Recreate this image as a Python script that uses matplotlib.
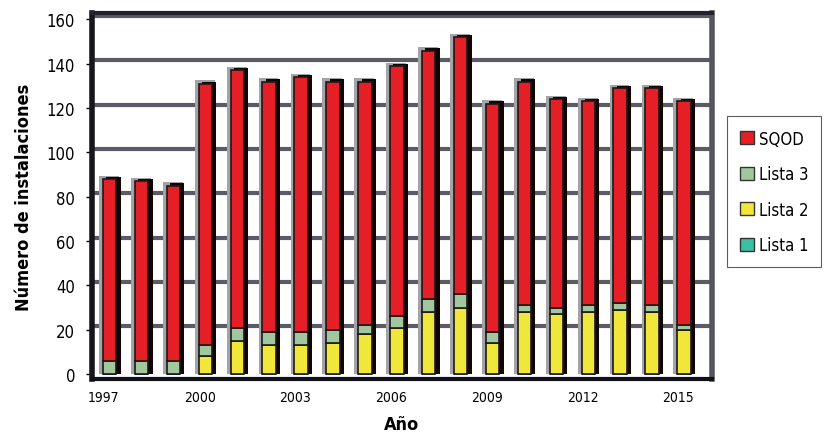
"""Instalaciones por año (barras apiladas)"""
import matplotlib
matplotlib.use('Agg')
import matplotlib.pyplot as plt
from matplotlib.patches import Patch

plt.rcParams['font.family'] = ['DejaVu Sans']
plt.rcParams['font.stretch'] = 'condensed'

YEARS = list(range(1997, 2016))
LISTA1 = [0] * 19
LISTA2 = [0, 0, 0, 8, 15, 13, 13, 14, 18, 21, 28, 30, 14, 28, 27, 28, 29, 28, 20]
LISTA3 = [6, 6, 6, 5, 6, 6, 6, 6, 4, 5, 6, 6, 5, 3, 3, 3, 3, 3, 2]
SQOD = [82, 81, 79, 118, 116, 113, 115, 112, 110, 113, 112, 116, 103, 101, 94, 92, 97, 98, 101]
XTICKS = [1997, 2000, 2003, 2006, 2009, 2012, 2015]

C_L1 = '#3cbfa2'
C_L2 = '#f0e73a'
C_L3 = '#a2c69e'
C_SQOD = '#e41f26'

fig = plt.figure(figsize=(8.27, 4.39), dpi=100)
ax = fig.add_axes([0.111, 0.134, 0.75, 0.834])

totals = [a + b + c + d for a, b, c, d in zip(LISTA1, LISTA2, LISTA3, SQOD)]
xs = [y + 0.18 for y in YEARS]

# back wall gridlines (3D offset)
for v in range(20, 161, 20):
    ax.axhline(v + 1.5, color='#5b5b65', lw=3, zorder=0)

# fake depth: gray halo + black side
ax.bar([x - 0.02 for x in xs], [t + 1.5 for t in totals], width=0.62,
       color='#a3a3a8', zorder=1)
ax.bar([x + 0.12 for x in xs], [t + 1 for t in totals], width=0.45,
       color='#120406', zorder=2)

b1 = [0] * 19
b2 = LISTA1
b3 = [a + b for a, b in zip(LISTA1, LISTA2)]
b4 = [a + b + c for a, b, c in zip(LISTA1, LISTA2, LISTA3)]
kw = dict(width=0.42, edgecolor='#1a1a1a', linewidth=1.2, zorder=3)
ax.bar(xs, LISTA1, bottom=b1, color=C_L1, **kw)
ax.bar(xs, LISTA2, bottom=b2, color=C_L2, **kw)
ax.bar(xs, LISTA3, bottom=b3, color=C_L3, **kw)
ax.bar(xs, SQOD, bottom=b4, color=C_SQOD, **kw)

ax.set_xlim(1996.62, 2016.06)
ax.set_ylim(-2.3, 162.9)
ax.set_yticks(range(0, 161, 20))
ax.set_xticks(XTICKS)
ax.tick_params(axis='y', labelsize=12, length=4, width=1, pad=8)
ax.tick_params(axis='x', labelsize=10, length=0, pad=8)

ax.spines['left'].set_linewidth(4)
ax.spines['left'].set_color('#16161e')
ax.spines['top'].set_linewidth(3)
ax.spines['top'].set_color('#22222c')
ax.spines['bottom'].set_linewidth(3)
ax.spines['bottom'].set_color('#101018')
ax.spines['right'].set_linewidth(4)
ax.spines['right'].set_color('#55555f')

ax.set_ylabel('Número de instalaciones', fontsize=13, fontweight='bold', labelpad=10)
ax.set_xlabel('Año', fontsize=13, fontweight='bold', labelpad=8)

handles = [Patch(facecolor=C_SQOD, edgecolor='#333333', label='SQOD'),
           Patch(facecolor=C_L3, edgecolor='#333333', label='Lista 3'),
           Patch(facecolor=C_L2, edgecolor='#333333', label='Lista 2'),
           Patch(facecolor=C_L1, edgecolor='#333333', label='Lista 1')]
leg = fig.legend(handles=handles, loc='upper left', bbox_to_anchor=(0.879, 0.733),
                 fontsize=12, frameon=True, fancybox=False, edgecolor='#333333',
                 handlelength=0.8, handleheight=0.8, handletextpad=0.3,
                 labelspacing=1.05, borderpad=0.8, borderaxespad=0)
leg.get_frame().set_linewidth(0.8)

fig.savefig('out.png', dpi=100)
